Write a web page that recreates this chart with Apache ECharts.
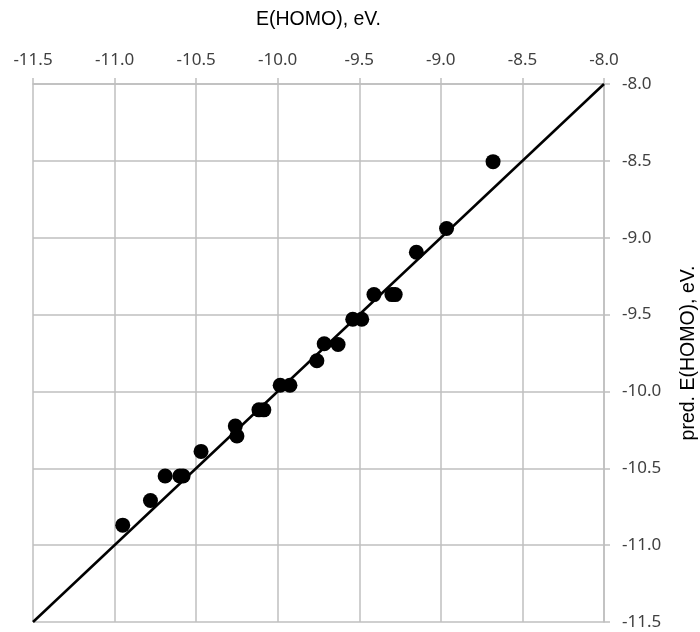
<!DOCTYPE html>
<html><head><meta charset="utf-8">
<script src="https://cdn.jsdelivr.net/npm/echarts@6/dist/echarts.min.js"></script>
<style>html,body{margin:0;padding:0;background:#fff}#c{width:700px;height:632px}</style>
</head><body><div id="c"></div>
<script>
const xVals = [-10.95, -10.78, -10.69, -10.60, -10.58, -10.47, -10.26, -10.25, -10.115, -10.085, -9.985, -9.925, -9.76, -9.715, -9.63, -9.54, -9.485, -9.41, -9.30, -9.28, -9.15, -8.965, -8.68];
const yVals = [-10.87, -10.71, -10.55, -10.55, -10.55, -10.39, -10.225, -10.29, -10.12, -10.12, -9.96, -9.96, -9.80, -9.69, -9.695, -9.53, -9.53, -9.37, -9.37, -9.37, -9.095, -8.94, -8.505];
const fitX = [-11.5, -8.0];
const fitY = [-11.5, -8.0];
const xTitle = 'E(HOMO), eV.';
const yTitle = 'pred. E(HOMO), eV.';

const chart = echarts.init(document.getElementById('c'));
const labelFont = 'Noto Sans';
const titleFont = 'Liberation Sans';
chart.setOption({
  animation: false,
  backgroundColor: '#fff',
  grid: {left: 33, right: 96, top: 84, bottom: 10, containLabel: false, outerBoundsMode: 'none'},
  xAxis: {
    type: 'value', position: 'top', min: -11.5, max: -8.0, interval: 0.5,
    name: xTitle, nameLocation: 'middle', nameGap: 54,
    nameTextStyle: {fontFamily: titleFont, fontSize: 19.5, color: '#000'},
    axisLine: {show: true, lineStyle: {color: '#bfbfbf', width: 1.5}},
    axisTick: {show: true, length: 6, lineStyle: {color: '#bfbfbf', width: 1.5}},
    axisLabel: {fontFamily: labelFont, fontSize: 17, color: '#404040', margin: 15, formatter: v => v.toFixed(1)},
    splitLine: {show: true, lineStyle: {color: '#bfbfbf', width: 1.5}}
  },
  yAxis: {
    type: 'value', position: 'right', min: -11.5, max: -8.0, interval: 0.5,
    name: yTitle, nameLocation: 'middle', nameGap: 75, nameRotate: 90,
    nameTextStyle: {fontFamily: titleFont, fontSize: 19.5, color: '#000'},
    axisLine: {show: true, lineStyle: {color: '#bfbfbf', width: 1.5}},
    axisTick: {show: true, length: 6, lineStyle: {color: '#bfbfbf', width: 1.5}},
    axisLabel: {fontFamily: labelFont, fontSize: 17, color: '#404040', margin: 18, formatter: v => v.toFixed(1)},
    splitLine: {show: true, lineStyle: {color: '#bfbfbf', width: 1.5}}
  },
  series: [
    {
      type: 'line', data: fitX.map((x, i) => [x, fitY[i]]), showSymbol: false, symbol: 'none',
      lineStyle: {color: '#000', width: 2.5}, z: 3
    },
    {
      type: 'scatter', data: xVals.map((x, i) => [x, yVals[i]]), symbol: 'circle', symbolSize: 15,
      itemStyle: {color: '#000', opacity: 1}, z: 4
    }
  ]
});
</script></body></html>
